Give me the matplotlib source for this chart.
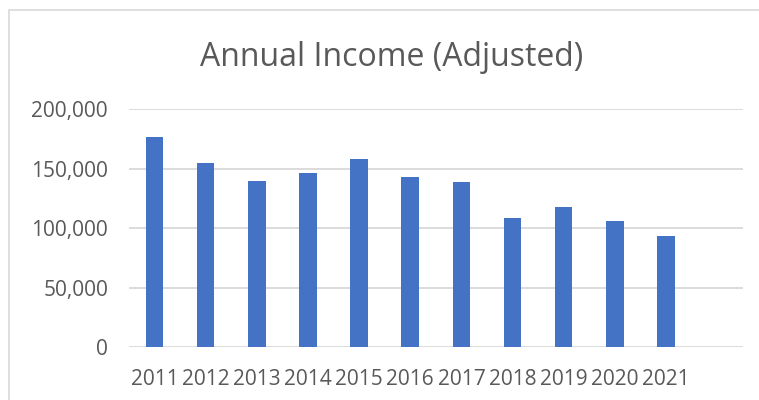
import matplotlib.pyplot as plt
from matplotlib.patches import Rectangle
from matplotlib.ticker import FuncFormatter

years = ['2011', '2012', '2013', '2014', '2015', '2016',
         '2017', '2018', '2019', '2020', '2021']
income = [176600, 154600, 139900, 146000, 157700, 143200,
          138400, 108400, 118100, 105600, 93000]

plt.rcParams['font.family'] = ['Open Sans', 'DejaVu Sans']

fig = plt.figure(figsize=(7.59, 4.0), dpi=100)
# chart frame (Excel style)
fig.patches.append(Rectangle((9 / 759, -0.1), 1.2, 1 - 10 / 400 + 0.1,
                             transform=fig.transFigure, fill=False,
                             edgecolor='#d9d9d9', linewidth=1.2))

ax = fig.add_axes([128.9 / 759, 1 - 347.4 / 400,
                   (742.7 - 128.9) / 759, (347.4 - 108.9) / 400])
ax.bar(range(len(years)), income, width=0.345, color='#4472C4', zorder=3)
ax.set_xlim(-0.5, 11.5)
ax.set_ylim(0, 200000)
ax.set_yticks([0, 50000, 100000, 150000, 200000])
ax.yaxis.set_major_formatter(FuncFormatter(lambda v, p: f'{int(v):,}'))
ax.set_xticks(range(len(years)))
ax.set_xticklabels(years)
ax.grid(axis='y', color='#d9d9d9', linewidth=1.3, zorder=0)
for s in ax.spines.values():
    s.set_visible(False)
ax.tick_params(axis='both', length=0, labelsize=15, colors='#595959')
ax.tick_params(axis='y', pad=15)
ax.tick_params(axis='x', pad=15.5)
fig.text(392 / 759, 1 - 66 / 400, 'Annual Income (Adjusted)', ha='center',
         va='baseline', fontsize=23, color='#595959')

fig.savefig('out.png', dpi=100)
